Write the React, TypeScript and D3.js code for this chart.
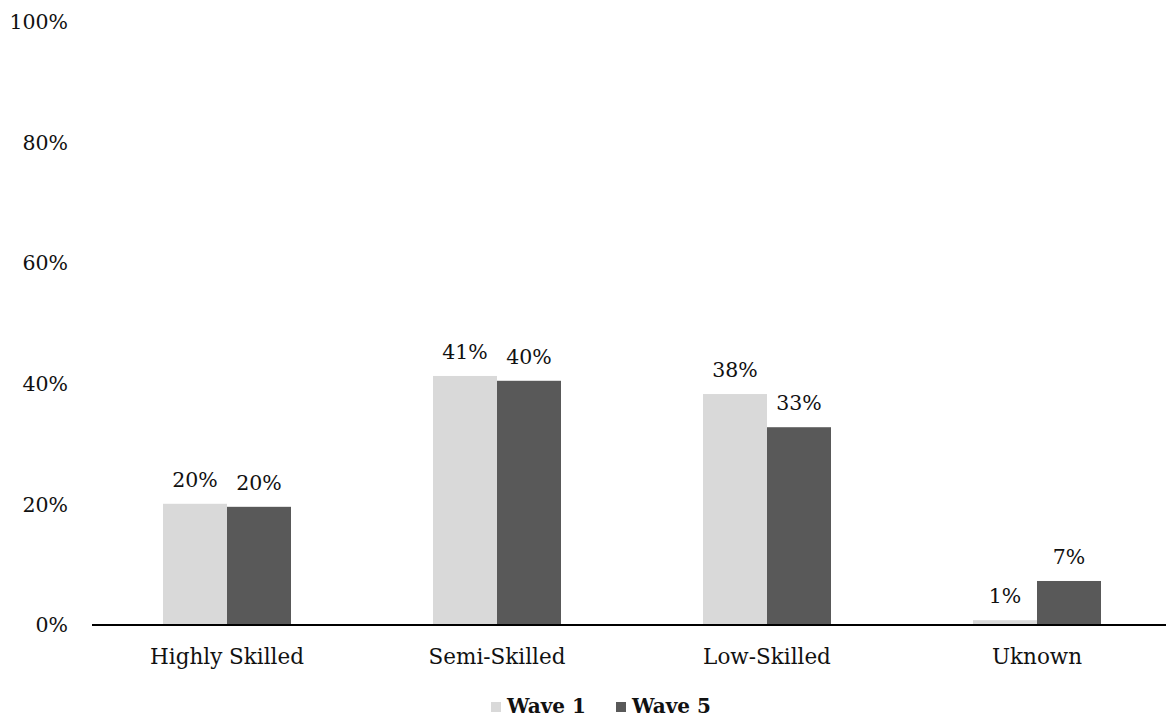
import React from "react";
import * as d3 from "d3";

const categories = ["Highly Skilled", "Semi-Skilled", "Low-Skilled", "Uknown"];
const seriesNames = ["Wave 1", "Wave 5"];
const wave1 = [20.1, 41.3, 38.3, 0.8];
const wave5 = [19.6, 40.5, 32.8, 7.3];
const wave1Labels = ["20%", "41%", "38%", "1%"];
const wave5Labels = ["20%", "40%", "33%", "7%"];
const yTicks = [0, 20, 40, 60, 80, 100];
const colors = ["#d9d9d9", "#595959"];

const W = 1166;
const H = 722;
const FONT = "'DejaVu Serif', 'Liberation Serif', serif";

export default function App() {
  const y = d3.scaleLinear().domain([0, 100]).range([625, 22]);
  const x0 = d3.scaleBand<string>().domain(categories).range([92, 1172]).paddingInner(0).paddingOuter(0);
  const x1 = d3.scaleBand<string>().domain(seriesNames).range([0, 128]);
  const groupOffset = (x0.bandwidth() - 128) / 2;
  const series = [wave1, wave5];
  const labels = [wave1Labels, wave5Labels];

  return (
    <svg
      width={W}
      height={H}
      style={{ position: "absolute", left: 0, top: 0, background: "#fff" }}
      fontFamily={FONT}
    >
      {yTicks.map((t) => (
        <text key={t} x={68} y={y(t)} dy="0.35em" textAnchor="end" fontSize={20.5} fill="#111">
          {t}%
        </text>
      ))}
      {categories.map((c, i) => (
        <g key={c} transform={`translate(${(x0(c) as number) + groupOffset},0)`}>
          {seriesNames.map((s, j) => {
            const v = series[j][i];
            const bx = x1(s) as number;
            const bw = x1.bandwidth();
            return (
              <g key={s}>
                <rect x={bx} y={y(v)} width={bw} height={y(0) - y(v)} fill={colors[j]} />
                <text
                  x={bx + bw / 2}
                  y={y(v) - 17}
                  textAnchor="middle"
                  fontSize={20.5}
                  fill="#111"
                >
                  {labels[j][i]}
                </text>
              </g>
            );
          })}
        </g>
      ))}
      <line x1={92} x2={W} y1={y(0)} y2={y(0)} stroke="#000" strokeWidth={2} />
      {categories.map((c) => (
        <text
          key={c}
          x={(x0(c) as number) + x0.bandwidth() / 2}
          y={664}
          textAnchor="middle"
          fontSize={21.5}
          fill="#111"
        >
          {c}
        </text>
      ))}
      <g>
        <rect x={491} y={702} width={10} height={10} fill={colors[0]} />
        <text x={507} y={713} fontSize={20} fontWeight="bold" fill="#111">
          {seriesNames[0]}
        </text>
        <rect x={616} y={702} width={10} height={10} fill={colors[1]} />
        <text x={632} y={713} fontSize={20} fontWeight="bold" fill="#111">
          {seriesNames[1]}
        </text>
      </g>
    </svg>
  );
}
